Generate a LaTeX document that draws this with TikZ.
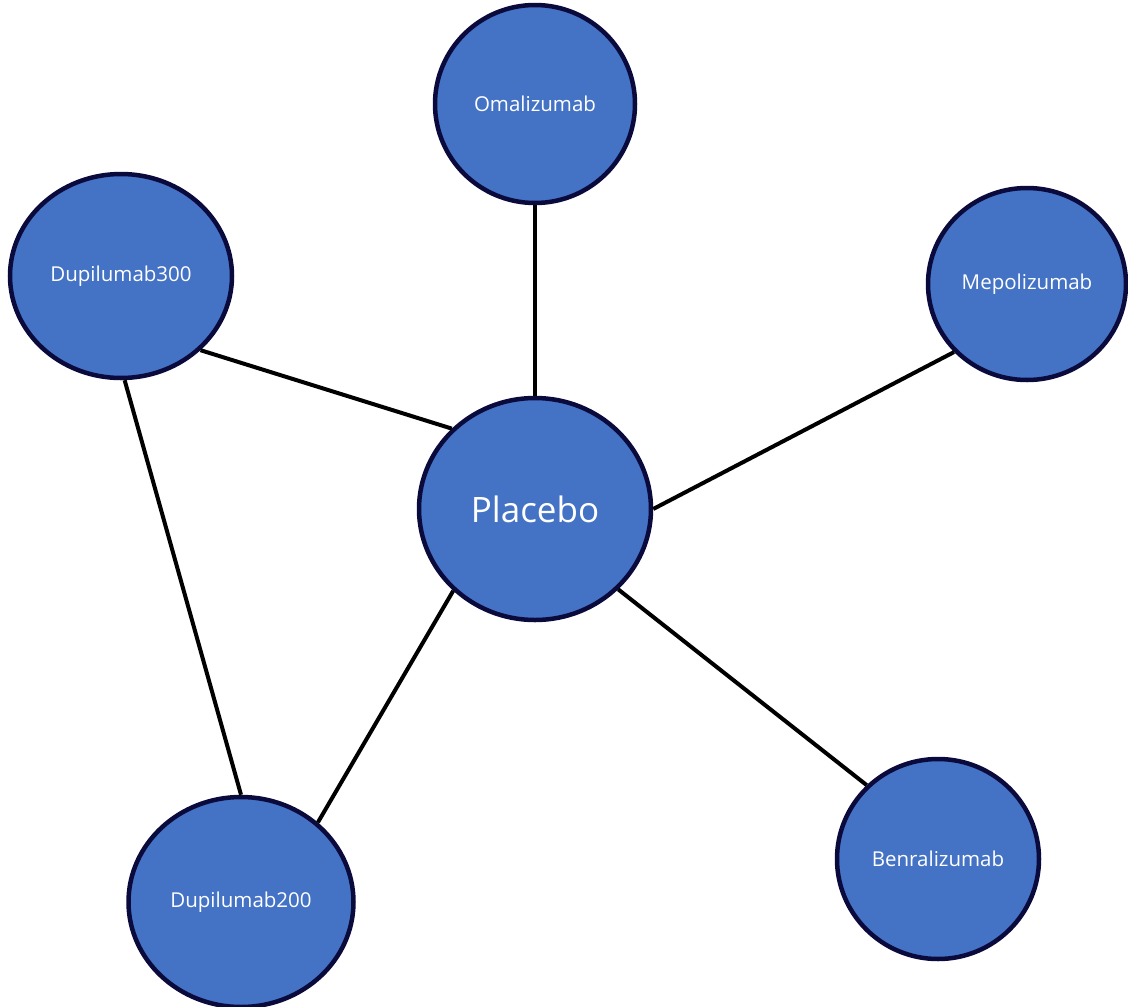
\documentclass[tikz,border=0pt]{standalone}
\usepackage{fontspec}
\setmainfont{Open Sans}
\usetikzlibrary{shapes.geometric}
\definecolor{nodefill}{HTML}{4472C4}
\definecolor{nodeborder}{HTML}{0A0A3C}
\tikzset{
  drug/.style={ellipse, draw=nodeborder, fill=nodefill, line width=4.5pt, text=white, inner sep=0pt, font=\fontsize{20.5}{24}\selectfont},
  link/.style={draw=black, line width=4pt}
}
\begin{document}
\begin{tikzpicture}[x=1pt,y=-1pt]
\useasboundingbox (0,0) rectangle (1128,1007);
\node[drug, minimum width=200pt, minimum height=198pt] (oma) at (535,104) {Omalizumab};
\node[drug, minimum width=222pt, minimum height=204pt] (d300) at (121,276) {Dupilumab300};
\node[drug, minimum width=198pt, minimum height=192pt] (mepo) at (1027,284) {Mepolizumab};
\node[drug, minimum width=232pt, minimum height=222pt, font=\fontsize{35}{40}\selectfont] (pla) at (535,509) {Placebo};
\node[drug, minimum width=225pt, minimum height=210pt] (d200) at (241,902) {Dupilumab200};
\node[drug, minimum width=202pt, minimum height=200pt] (benra) at (938,859) {Benralizumab};
\draw[link] (oma.-90) -- (pla.90);
\draw[link] (d300.-43) -- (pla.136);
\draw[link] (mepo.223) -- (pla.0);
\draw[link] (d200.46) -- (pla.225);
\draw[link] (benra.134) -- (pla.-44);
\draw[link] (d300.-88) -- (d200.90);
\end{tikzpicture}
\end{document}
